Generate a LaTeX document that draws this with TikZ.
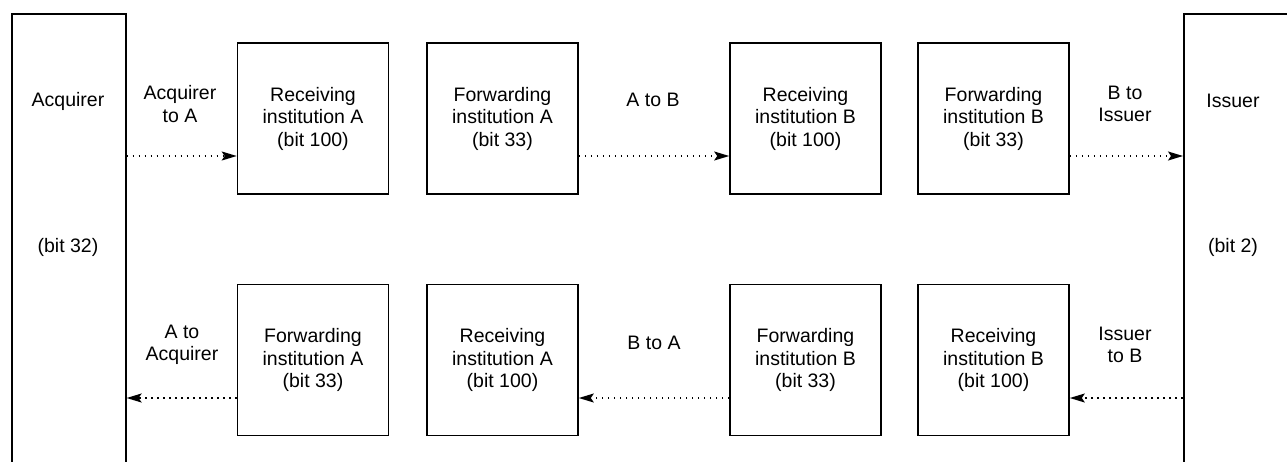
\documentclass[tikz,border=0pt]{standalone}
\usepackage{fontspec}
\setmainfont{Liberation Sans}
\usetikzlibrary{arrows.meta}
\begin{document}
\begin{tikzpicture}[x=1pt,y=1pt,
    every node/.style={font=\fontsize{19.5}{22.5}\selectfont, align=center, inner sep=0pt},
    inst/.style={draw, line width=1.6pt, minimum width=151pt, minimum height=151pt},
    party/.style={draw, line width=1.6pt, minimum width=114pt, minimum height=500pt, anchor=north west},
    flow/.style={line width=1.6pt, dash pattern=on 1.6pt off 4.4pt,
                 -{Stealth[length=15pt,width=9pt,inset=3pt]}}]
  \useasboundingbox (0,0) rectangle (1287,-461);

  % side parties (boxes run past the page edge)
  \node[party] (acq) at (11,-13) {};
  \node[party, minimum width=200pt] (iss) at (1183,-13) {};
  \node (acqname) at (68,-101) {Acquirer};
  \node (acqbit)  at (68,-247) {(bit 32)};
  \node (issname) at (1233,-101) {Issuer};
  \node (issbit)  at (1233,-247) {(bit 2)};

  % request path
  \node[inst] (ra)  at (313,-118.5)   {Receiving\\institution A\\(bit 100)};
  \node[inst] (fa)  at (502.5,-118.5) {Forwarding\\institution A\\(bit 33)};
  \node[inst] (rb)  at (805.5,-118.5) {Receiving\\institution B\\(bit 100)};
  \node[inst] (fb)  at (993.5,-118.5) {Forwarding\\institution B\\(bit 33)};

  % response path
  \node[inst] (fa2) at (313,-360)   {Forwarding\\institution A\\(bit 33)};
  \node[inst] (ra2) at (502.5,-360) {Receiving\\institution A\\(bit 100)};
  \node[inst] (fb2) at (805.5,-360) {Forwarding\\institution B\\(bit 33)};
  \node[inst] (rb2) at (993.5,-360) {Receiving\\institution B\\(bit 100)};

  % hop labels
  \node (l1) at (180,-104)   {Acquirer\\to A};
  \node (l2) at (653,-100)   {A to B};
  \node (l3) at (1125,-104)  {B to\\Issuer};
  \node (l4) at (182,-345)   {A to\\Acquirer};
  \node (l5) at (654,-343)   {B to A};
  \node (l6) at (1125,-345)  {Issuer\\to B};

  % arrow levels
  \coordinate (yt) at (0,-156);
  \coordinate (yb) at (0,-398);

  \draw[flow] (acq.east |- yt) -- (ra.west |- yt);
  \draw[flow] (fa.east |- yt) -- (rb.west |- yt);
  \draw[flow] (fb.east |- yt) -- (iss.west |- yt);

  \draw[flow] (fa2.west |- yb) -- (acq.east |- yb);
  \draw[flow] (fb2.west |- yb) -- (ra2.east |- yb);
  \draw[flow] (iss.west |- yb) -- (rb2.east |- yb);
\end{tikzpicture}
\end{document}
